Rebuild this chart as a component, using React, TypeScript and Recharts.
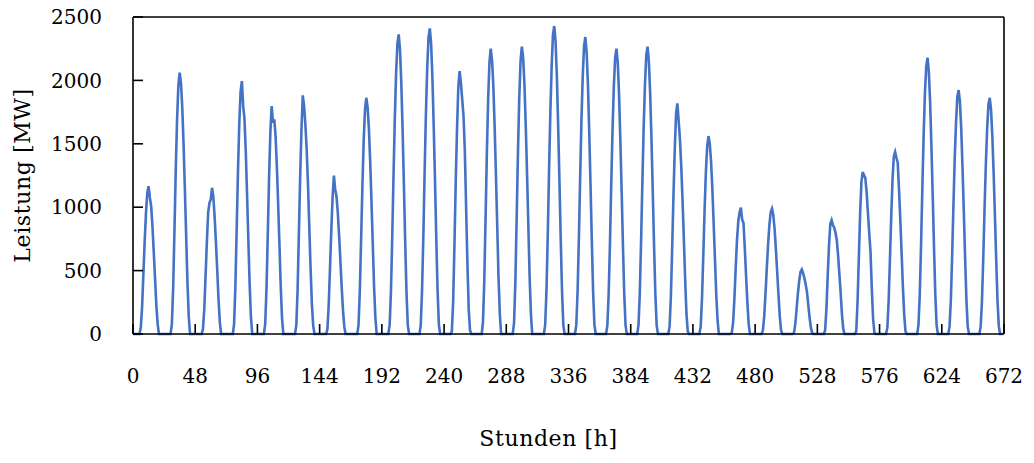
import { LineChart, Line, XAxis, YAxis, Label, ReferenceLine } from 'recharts'

// hourly PV feed-in per day, hours 0..23 (MW)
const d01 = [0,0,0,0,0,0,50,210,470,730,950,1110,1166,1077,1010,850,650,440,230,80,0,0,0,0]
const d02 = [0,0,0,0,0,0,80,370,820,1300,1690,1960,2061,1980,1790,1500,1150,780,410,140,0,0,0,0]
const d03 = [0,0,0,0,0,0,40,200,460,730,960,1035,1060,1153,1080,920,720,500,270,90,0,0,0,0]
const d04 = [0,0,0,0,0,0,80,380,830,1290,1660,1910,1995,1797,1700,1440,1100,740,390,130,0,0,0,0]
const d05 = [0,0,0,0,0,0,80,360,790,1240,1600,1797,1666,1692,1560,1320,1020,700,370,120,0,0,0,0]
const d06 = [0,0,0,0,0,0,70,350,800,1250,1620,1882,1797,1650,1456,1180,850,520,240,70,0,0,0,0]
const d07 = [0,0,0,0,0,0,40,230,520,820,1080,1250,1140,1087,960,780,580,370,190,60,0,0,0,0]
const d08 = [0,0,0,0,0,0,70,340,750,1170,1530,1770,1863,1790,1620,1360,1040,710,370,130,0,0,0,0]
const d09 = [0,0,0,0,0,0,70,330,760,1250,1700,2060,2290,2363,2240,1980,1610,1180,730,330,70,0,0,0]
const d10 = [0,0,0,0,0,0,70,340,770,1280,1740,2100,2340,2410,2290,2020,1640,1210,750,340,70,0,0,0]
const d11 = [0,0,0,0,0,0,20,250,700,1200,1620,1950,2074,1980,1850,1719,1450,1000,560,200,30,0,0,0]
const d12 = [0,0,0,0,0,0,90,410,900,1420,1850,2140,2250,2160,1960,1640,1260,860,450,160,0,0,0,0]
const d13 = [0,0,0,0,0,0,90,410,910,1430,1860,2150,2266,2180,1970,1650,1270,860,450,160,0,0,0,0]
const d14 = [0,0,0,0,0,0,70,340,780,1290,1750,2110,2360,2429,2310,2040,1650,1210,750,340,70,0,0,0]
const d15 = [0,0,0,0,0,0,70,330,750,1240,1690,2040,2270,2342,2220,1970,1590,1170,730,330,70,0,0,0]
const d16 = [0,0,0,0,0,0,70,320,720,1190,1620,1960,2180,2250,2140,1890,1530,1130,700,320,70,0,0,0]
const d17 = [0,0,0,0,0,0,70,320,730,1200,1630,1970,2200,2266,2150,1900,1540,1130,700,320,70,0,0,0]
const d18 = [0,0,0,0,0,0,60,300,680,1100,1460,1740,1819,1680,1535,1320,1050,750,430,160,20,0,0,0]
const d19 = [0,0,0,0,0,0,60,280,620,980,1280,1480,1561,1500,1360,1140,870,590,310,110,0,0,0,0]
const d20 = [0,0,0,0,0,0,10,90,280,520,740,890,960,996,900,877,680,460,250,80,0,0,0,0]
const d21 = [0,0,0,0,0,0,30,140,320,520,710,860,960,988,940,830,670,490,310,140,30,0,0,0]
const d22 = [0,0,0,0,0,0,10,80,200,320,420,490,509,480,440,390,330,230,130,50,10,0,0,0]
const d23 = [0,0,0,0,0,0,30,200,460,700,870,898,860,838,800,740,620,470,320,150,40,0,0,0]
const d24 = [0,0,0,0,0,0,20,250,600,950,1200,1277,1250,1232,1120,960,800,650,360,120,10,0,0,0]
const d25 = [0,0,0,0,0,0,50,260,590,930,1220,1400,1435,1390,1351,1140,900,640,370,150,20,0,0,0]
const d26 = [0,0,0,0,0,0,70,310,700,1150,1570,1900,2110,2179,2070,1830,1480,1090,680,310,70,0,0,0]
const d27 = [0,0,0,0,0,0,60,270,620,1020,1390,1670,1870,1924,1830,1620,1310,960,600,270,60,0,0,0]
const d28 = [0,0,0,0,0,0,60,260,600,990,1340,1620,1810,1863,1770,1560,1270,930,580,260,60,0,0,0]

const DAYS = [d01,d02,d03,d04,d05,d06,d07,d08,d09,d10,d11,d12,d13,d14,d15,d16,d17,d18,d19,d20,d21,d22,d23,d24,d25,d26,d27,d28]

const X_TICKS = [0,48,96,144,192,240,288,336,384,432,480,528,576,624,672]
const Y_TICKS = [0,500,1000,1500,2000,2500]

const data = DAYS.flat().map((mw, h) => ({ h, mw }))

const FONT = '"DejaVu Serif", serif'
const txt = { fontFamily: FONT, fontSize: 20, fill: '#000' }
const title = { fontFamily: FONT, fontSize: 22, letterSpacing: 0.6, fill: '#000' }

export default function App() {
  return (
    <div style={{ position: 'absolute', left: 0, top: 0, background: '#fff' }}>
      <LineChart width={1034} height={463} data={data} margin={{ top: 17, right: 30, left: 0, bottom: 0 }}>
        <XAxis dataKey="h" type="number" domain={[0, 672]} ticks={X_TICKS} interval={0}
          height={129} tickSize={-10} tickMargin={45} tick={txt}
          stroke="#000" strokeWidth={1.6} tickLine={{ stroke: '#000', strokeWidth: 1.6 }}>
          <Label content={({ viewBox }: any) => (
            <text x={viewBox.x + viewBox.width / 2 - 20} y={viewBox.y + 112} textAnchor="middle" style={title}>Stunden [h]</text>
          )} />
        </XAxis>
        <YAxis type="number" domain={[0, 2500]} ticks={Y_TICKS} interval={0} width={133}
          tickSize={-10} tickMargin={41} tick={txt}
          stroke="#000" strokeWidth={1.6} tickLine={{ stroke: '#000', strokeWidth: 1.6 }}>
          <Label content={({ viewBox }: any) => (
            <text x={0} y={0} transform={`translate(${30}, ${viewBox.y + viewBox.height / 2}) rotate(-90)`}
              textAnchor="middle" style={title}>Leistung [MW]</text>
          )} />
        </YAxis>
        <ReferenceLine y={2500} stroke="#000" strokeWidth={1.6} />
        <ReferenceLine x={672} stroke="#000" strokeWidth={1.6} />
        <Line type="linear" dataKey="mw" stroke="#4472C4" strokeWidth={2.6} dot={false} isAnimationActive={false} />
      </LineChart>
    </div>
  )
}
